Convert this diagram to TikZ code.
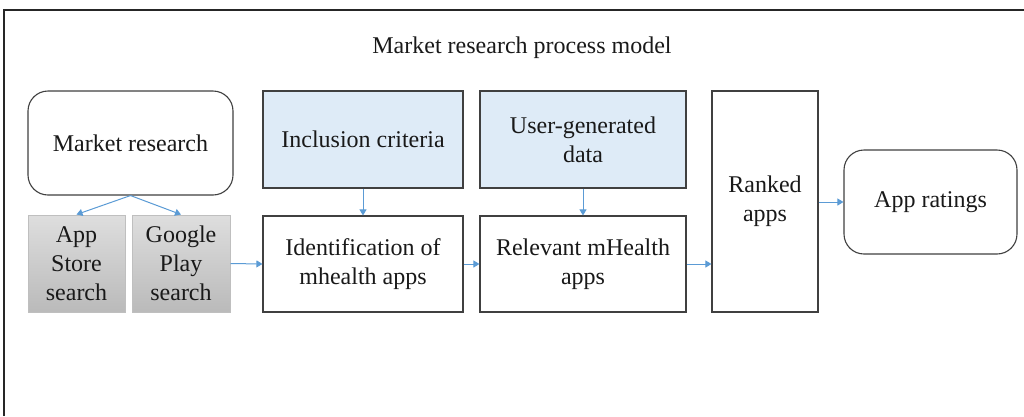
\documentclass[tikz,border=0pt]{standalone}
\usepackage{fontspec}
\setmainfont{Liberation Serif}
\usetikzlibrary{arrows.meta,positioning}

\definecolor{flowblue}{RGB}{91,155,213}
\definecolor{critfill}{RGB}{222,235,247}
\definecolor{edgegray}{RGB}{64,64,64}

\newcommand{\boxfont}{\rmfamily\fontsize{24}{29}\selectfont}

\tikzset{
  boxbase/.style={draw=edgegray, line width=1.1pt, align=center, inner sep=0pt,
    font=\boxfont, text=black!90},
  plainbox/.style={boxbase, fill=white},
  critbox/.style={boxbase, fill=critfill},
  roundbox/.style={boxbase, fill=white, rounded corners=20pt},
  storebox/.style={draw=black!25, line width=1pt, align=center, inner sep=0pt,
    top color=black!13, bottom color=black!27,
    font=\boxfont, text=black!90},
  flow/.style={draw=flowblue, line width=1pt,
    -{Triangle[width=7pt,length=6pt]}},
}

\begin{document}
\begin{tikzpicture}[x=1pt,y=-1pt]
  \useasboundingbox (0,0) rectangle (1024,416);
  % outer frame: left and top edges
  \draw[line width=1.4pt, black!85] (4,416) -- (4,10) -- (1024,10);

  \node[font=\boxfont, text=black!90] (title) at (522,48) {Market research process model};

  % boxes (centres and sizes in pixel units)
  \node[roundbox, minimum width=205pt, minimum height=104pt] (mr) at (130.5,143) {Market research};
  \node[storebox, minimum width=97pt, minimum height=97pt] (as) at (76.5,263.5) {App\\Store\\search};
  \node[storebox, minimum width=98pt, minimum height=97pt] (gp) at (181,263.5) {Google\\Play\\search};

  \node[critbox, minimum width=200pt, minimum height=97pt] (inc) at (363,139.5) {Inclusion criteria};
  \node[critbox, minimum width=206pt, minimum height=97pt] (ugd) at (583,139.5) {User-generated\\data};

  \node[plainbox, minimum width=200pt, minimum height=96pt] (idm) at (363,264) {Identification of\\mhealth apps};
  \node[plainbox, minimum width=206pt, minimum height=96pt] (rel) at (583,264) {Relevant mHealth\\apps};

  \node[plainbox, minimum width=106pt, minimum height=221pt] (rank) at (765,201.5) {Ranked\\apps};
  \node[roundbox, minimum width=173pt, minimum height=104pt] (rat) at (930.5,202) {App ratings};

  % connectors
  \draw[flow] (mr.south) -- (as.north);
  \draw[flow] (mr.south) -- (gp.north);
  \draw[flow] (gp.east) -- (idm.west);
  \draw[flow] (inc.south) -- (idm.north);
  \draw[flow] (ugd.south) -- (rel.north);
  \draw[flow] (idm.east) -- (rel.west);
  \draw[flow] (rel.east) -- (rank.west |- rel.east);
  \draw[flow] (rank.east |- rat.west) -- (rat.west);
\end{tikzpicture}
\end{document}
